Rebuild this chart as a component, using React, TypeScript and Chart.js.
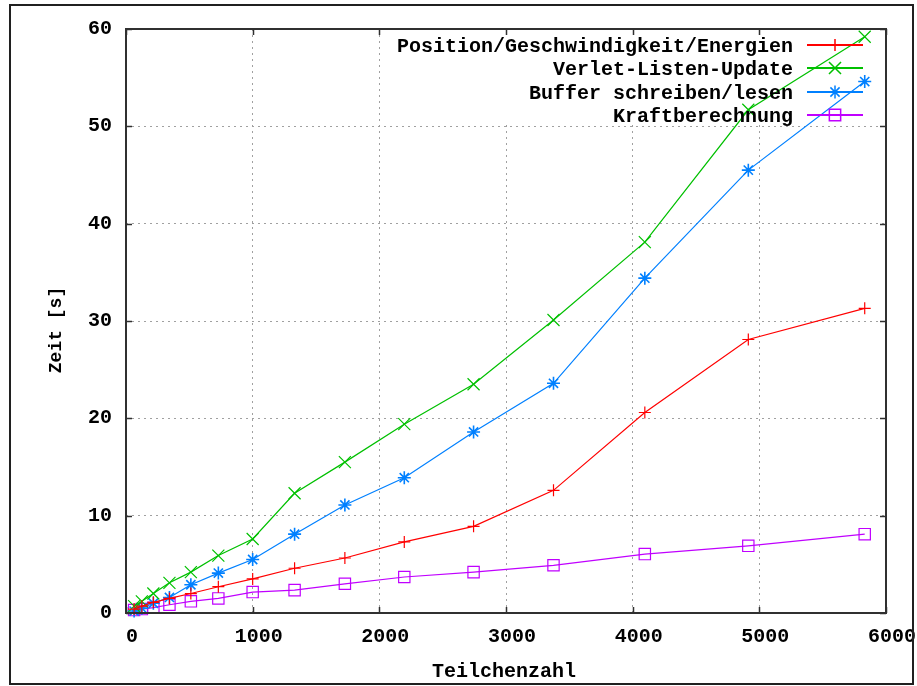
import React, { useEffect, useRef } from "react";
import { Chart, registerables } from "chart.js";
import { drawPoint } from "chart.js/helpers";

Chart.register(...registerables);

// Particle counts (n^3 for n = 4..18)
const particleCounts = [64, 125, 216, 343, 512, 729, 1000, 1331, 1728, 2197, 2744, 3375, 4096, 4913, 5832];

const seriesLabels = [
  "Position/Geschwindigkeit/Energien",
  "Verlet-Listen-Update",
  "Buffer schreiben/lesen",
  "Kraftberechnung",
];

const positionTimes = [0.4, 0.7, 1.1, 1.5, 2.0, 2.7, 3.5, 4.6, 5.65, 7.3, 8.9, 12.6, 20.6, 28.1, 31.3];
const verletTimes = [0.7, 1.2, 2.0, 3.1, 4.2, 5.9, 7.6, 12.3, 15.5, 19.4, 23.5, 30.1, 38.1, 51.7, 59.2];
const bufferTimes = [0.2, 0.5, 1.0, 1.6, 2.9, 4.1, 5.5, 8.1, 11.1, 13.9, 18.6, 23.6, 34.4, 45.5, 54.6];
const forceTimes = [0.3, 0.4, 0.55, 0.85, 1.2, 1.5, 2.15, 2.35, 3.0, 3.7, 4.2, 4.9, 6.05, 6.9, 8.1];

const seriesColors = ["#ff0000", "#00c000", "#0080ff", "#c000ff"];
const seriesPointStyles = ["cross", "crossRot", "star", "rect"];
const seriesPointRadius = [6, 8.5, 6.5, 8];

const xTickStep = 1000;
const yTickStep = 10;
const xTitle = "Teilchenzahl";
const yTitle = "Zeit [s]";

const FONT_FAMILY = "'Liberation Mono', 'DejaVu Sans Mono', monospace";

export default function App() {
  const canvasRef = useRef<HTMLCanvasElement | null>(null);

  useEffect(() => {
    const canvas = canvasRef.current;
    if (!canvas) return;

    const allSeries = [positionTimes, verletTimes, bufferTimes, forceTimes];
    const datasets = allSeries.map((vals, i) => ({
      label: seriesLabels[i],
      data: particleCounts.map((x, j) => ({ x, y: vals[j] })),
      borderColor: seriesColors[i],
      backgroundColor: "rgba(0,0,0,0)",
      borderWidth: 1.2,
      pointStyle: seriesPointStyles[i] as any,
      pointRadius: seriesPointRadius[i],
      pointBorderColor: seriesColors[i],
      pointBackgroundColor: "rgba(0,0,0,0)",
      pointBorderWidth: i === 2 ? 1.6 : 1.2,
      tension: 0,
      clip: false as any,
    }));

    const framePlugin = {
      id: "gnuplotFrame",
      beforeDraw(chart: any) {
        const ctx = chart.ctx;
        ctx.save();
        ctx.fillStyle = "#ffffff";
        ctx.fillRect(0, 0, chart.width, chart.height);
        ctx.restore();
      },
      beforeDatasetsDraw(chart: any) {
        // clear grid behind key area
        const ctx = chart.ctx;
        const a = chart.chartArea;
        ctx.save();
        ctx.fillStyle = "#ffffff";
        ctx.fillRect(383, a.top + 1, a.right - 383 - 1, 123 - a.top);
        ctx.restore();
      },
      afterDatasetsDraw(chart: any) {
        const ctx = chart.ctx;
        const a = chart.chartArea;
        const xs = chart.scales.x;
        const ys = chart.scales.y;
        ctx.save();
        // plot border
        ctx.strokeStyle = "#303030";
        ctx.lineWidth = 2;
        ctx.strokeRect(a.left, a.top, a.right - a.left, a.bottom - a.top);
        // inward tick marks (mirrored)
        ctx.lineWidth = 1.5;
        const tl = 6;
        ctx.beginPath();
        xs.ticks.forEach((t: any) => {
          const px = Math.round(xs.getPixelForValue(t.value)) + 0.5;
          ctx.moveTo(px, a.bottom);
          ctx.lineTo(px, a.bottom - tl);
          ctx.moveTo(px, a.top);
          ctx.lineTo(px, a.top + tl);
        });
        ys.ticks.forEach((t: any) => {
          const py = Math.round(ys.getPixelForValue(t.value)) + 0.5;
          ctx.moveTo(a.left, py);
          ctx.lineTo(a.left + tl, py);
          ctx.moveTo(a.right, py);
          ctx.lineTo(a.right - tl, py);
        });
        ctx.stroke();

        // key
        ctx.font = `bold 20px ${FONT_FAMILY}`;
        ctx.textAlign = "right";
        ctx.textBaseline = "alphabetic";
        chart.data.datasets.forEach((ds: any, i: number) => {
          const rowY = Math.round(45 + i * 23.3);
          ctx.fillStyle = "#000";
          ctx.fillText(ds.label, 793, rowY + 7);
          ctx.strokeStyle = seriesColors[i];
          ctx.lineWidth = 2;
          ctx.beginPath();
          ctx.moveTo(807, rowY);
          ctx.lineTo(863, rowY);
          ctx.stroke();
          ctx.fillStyle = "rgba(0,0,0,0)";
          ctx.strokeStyle = seriesColors[i];
          ctx.lineWidth = 1.5;
          drawPoint(ctx, {
            pointStyle: seriesPointStyles[i],
            rotation: 0,
            radius: seriesPointRadius[i],
            borderWidth: 1.5,
          } as any, 835, rowY);
        });

        // axis titles
        ctx.fillStyle = "#000";
        ctx.textAlign = "center";
        ctx.font = `bold 20px ${FONT_FAMILY}`;
        ctx.fillText(xTitle, 504, 677);
        ctx.save();
        ctx.translate(56, 330);
        ctx.rotate(-Math.PI / 2);
        ctx.font = `bold 18px ${FONT_FAMILY}`;
        ctx.textBaseline = "middle";
        ctx.fillText(yTitle, 0, 0);
        ctx.restore();

        // outer frame
        ctx.strokeStyle = "#202020";
        ctx.lineWidth = 2;
        ctx.strokeRect(10, 5, 903, 679);
        ctx.restore();
      },
    };

    const tickFont = { family: FONT_FAMILY, size: 20, weight: "bold" as const };

    const chart = new Chart(canvas, {
      type: "line",
      data: { datasets: datasets as any },
      options: {
        animation: false,
        responsive: false,
        maintainAspectRatio: false,
        layout: { padding: { left: 0, right: 31, top: 29, bottom: 0 } },
        plugins: {
          legend: { display: false },
          tooltip: { enabled: false },
        },
        scales: {
          x: {
            type: "linear",
            min: 0,
            max: 6000,
            ticks: {
              stepSize: xTickStep,
              color: "#000",
              font: tickFont,
              padding: 12,
              labelOffset: 6,
              maxRotation: 0,
              autoSkip: false,
              callback: (v: any) => String(v),
            },
            grid: { color: "#a0a0a0", lineWidth: 1, drawTicks: false },
            border: { display: false, dash: [2, 4] },
            afterFit: (s: any) => {
              s.height = 73;
              s.paddingLeft = 0;
              s.paddingRight = 0;
            },
          },
          y: {
            type: "linear",
            min: 0,
            max: 60,
            ticks: {
              stepSize: yTickStep,
              color: "#000",
              font: tickFont,
              padding: 14,
              autoSkip: false,
              callback: (v: any) => String(v),
            },
            grid: { color: "#a0a0a0", lineWidth: 1, drawTicks: false },
            border: { display: false, dash: [2, 4] },
            afterFit: (s: any) => {
              s.width = 126;
              s.paddingTop = 0;
              s.paddingBottom = 0;
            },
          },
        },
      },
      plugins: [framePlugin],
    });

    return () => {
      chart.destroy();
    };
  }, []);

  return (
    <div style={{ position: "absolute", left: 0, top: 0, width: 917, height: 686 }}>
      <canvas ref={canvasRef} width={917} height={686} style={{ display: "block" }} />
    </div>
  );
}
